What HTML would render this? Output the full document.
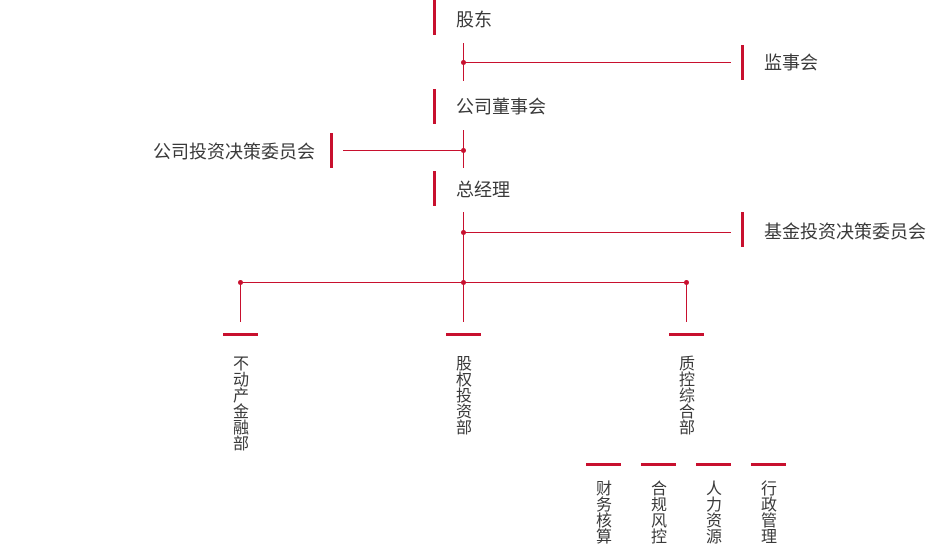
<!DOCTYPE html>
<html><head><meta charset="utf-8"><style>
body{margin:0;width:927px;height:544px;background:#fff;position:relative;overflow:hidden;font-family:"Liberation Sans","Noto Sans CJK SC",sans-serif;color:#3a3a3a}
.r{position:absolute;background:#c8102e}
.t{position:absolute;font-size:18px;line-height:20px;white-space:nowrap}
.v{position:absolute;font-size:16px;line-height:16px;width:16px;text-align:center;color:#3a3a3a}
.d{position:absolute;width:5px;height:5px;border-radius:50%;background:#c8102e}
</style></head><body>
<div class="r" style="left:433px;top:0;width:3px;height:35px"></div>
<div class="t" style="left:456px;top:10px">股东</div>
<div class="r" style="left:463px;top:43px;width:1px;height:38px"></div>
<div class="r" style="left:463px;top:62px;width:268px;height:1px"></div>
<div class="d" style="left:461px;top:60px"></div>
<div class="r" style="left:741px;top:45px;width:3px;height:35px"></div>
<div class="t" style="left:764px;top:53px">监事会</div>

<div class="r" style="left:433px;top:89px;width:3px;height:35px"></div>
<div class="t" style="left:456px;top:97px">公司董事会</div>
<div class="r" style="left:463px;top:130px;width:1px;height:38px"></div>
<div class="r" style="left:343px;top:150px;width:120px;height:1px"></div>
<div class="d" style="left:461px;top:148px"></div>
<div class="r" style="left:330px;top:133px;width:3px;height:35px"></div>
<div class="t" style="left:153px;top:142px">公司投资决策委员会</div>

<div class="r" style="left:433px;top:171px;width:3px;height:35px"></div>
<div class="t" style="left:456px;top:180px">总经理</div>
<div class="r" style="left:463px;top:212px;width:1px;height:110px"></div>
<div class="r" style="left:463px;top:232px;width:268px;height:1px"></div>
<div class="d" style="left:461px;top:230px"></div>
<div class="r" style="left:741px;top:212px;width:3px;height:35px"></div>
<div class="t" style="left:764px;top:222px">基金投资决策委员会</div>

<div class="r" style="left:240px;top:282px;width:447px;height:1px"></div>
<div class="d" style="left:238px;top:280px"></div>
<div class="d" style="left:461px;top:280px"></div>
<div class="d" style="left:684px;top:280px"></div>
<div class="r" style="left:240px;top:282px;width:1px;height:40px"></div>
<div class="r" style="left:686px;top:282px;width:1px;height:40px"></div>

<div class="r" style="left:223px;top:333px;width:35px;height:3px"></div>
<div class="r" style="left:446px;top:333px;width:35px;height:3px"></div>
<div class="r" style="left:669px;top:333px;width:35px;height:3px"></div>
<div class="v" style="left:233px;top:357px">不动产金融部</div>
<div class="v" style="left:456px;top:357px">股权投资部</div>
<div class="v" style="left:679px;top:357px">质控综合部</div>

<div class="r" style="left:586px;top:463px;width:35px;height:3px"></div>
<div class="r" style="left:641px;top:463px;width:35px;height:3px"></div>
<div class="r" style="left:696px;top:463px;width:35px;height:3px"></div>
<div class="r" style="left:751px;top:463px;width:35px;height:3px"></div>
<div class="v" style="left:596px;top:482px">财务核算</div>
<div class="v" style="left:651px;top:482px">合规风控</div>
<div class="v" style="left:706px;top:482px">人力资源</div>
<div class="v" style="left:761px;top:482px">行政管理</div>
</body></html>
